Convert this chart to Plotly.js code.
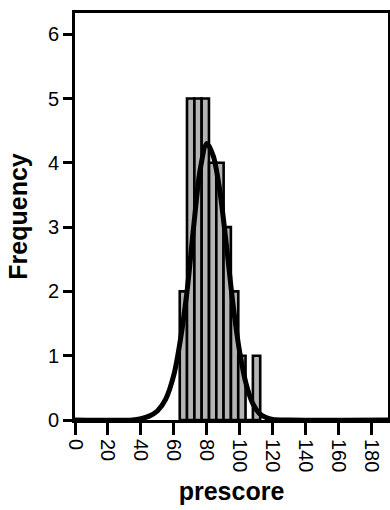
<!DOCTYPE html>
<html>
<head>
<meta charset="utf-8">
<script src="https://cdn.plot.ly/plotly-3.0.1.min.js"></script>
<style>html,body{margin:0;padding:0;background:#fff}</style>
</head>
<body>
<div id="chart" style="width:390px;height:510px"></div>
<script>
// Histogram bins (centres) and counts
const binCenters = [65.8, 70.2, 74.7, 79.1, 83.6, 88.0, 92.4, 96.9, 101.3, 105.8, 110.2];
const frequencies = [2, 5, 5, 5, 4, 4, 3, 2, 1, 0, 1];
const binWidth = 4.44;

// Fitted Gaussian curve
const fitX = [0, 35, 40, 45, 50, 55, 60, 64, 68, 72, 76, 80, 84, 88, 92, 96, 100, 104, 108, 112, 116, 120, 130, 190];
const fitY = [0, 0, 0.02, 0.06, 0.14, 0.32, 0.7, 1.25, 2.0, 3.0, 3.9, 4.3, 4.1, 3.55, 2.7, 1.78, 1.05, 0.55, 0.25, 0.1, 0.04, 0.01, 0, 0];

const xTicks = [0, 20, 40, 60, 80, 100, 120, 140, 160, 180];
const yTicks = [0, 1, 2, 3, 4, 5, 6];

const bars = {
  type: 'bar',
  x: binCenters,
  y: frequencies,
  width: binWidth,
  marker: {color: '#b4b4b4', line: {color: '#000', width: 2.6}},
  hoverinfo: 'x+y'
};
const fit = {
  type: 'scatter',
  mode: 'lines',
  x: fitX,
  y: fitY,
  line: {color: '#000', width: 5, shape: 'spline', smoothing: 0.8}
};

const axisFont = {family: 'Liberation Sans, Arial, sans-serif', size: 20, color: '#000'};
const titleFont = {family: 'Liberation Sans, Arial, sans-serif', size: 25, color: '#000', weight: 'bold'};

const layout = {
  width: 390, height: 510,
  margin: {l: 75, r: 2, t: 13, b: 90},
  paper_bgcolor: '#fff', plot_bgcolor: '#fff',
  showlegend: false,
  bargap: 0,
  xaxis: {
    range: [0, 190],
    tickvals: xTicks,
    ticktext: xTicks.map(String),
    tickangle: 90,
    ticks: 'outside', ticklen: 12, tickwidth: 3, tickcolor: '#000',
    showline: true, linecolor: '#000', linewidth: 3, mirror: true,
    showgrid: false, zeroline: false,
    tickfont: axisFont,
    title: {text: '<b>prescore</b>', font: titleFont, standoff: 12}
  },
  yaxis: {
    range: [0, 6.33],
    tickvals: yTicks,
    ticks: 'outside', ticklen: 9, tickwidth: 3, tickcolor: '#000',
    showline: true, linecolor: '#000', linewidth: 3, mirror: true,
    showgrid: false, zeroline: false,
    tickfont: axisFont,
    title: {text: '<b>Frequency</b>', font: titleFont, standoff: 14}
  }
};

Plotly.newPlot('chart', [bars, fit], layout, {displayModeBar: false, staticPlot: true});
</script>
</body>
</html>
